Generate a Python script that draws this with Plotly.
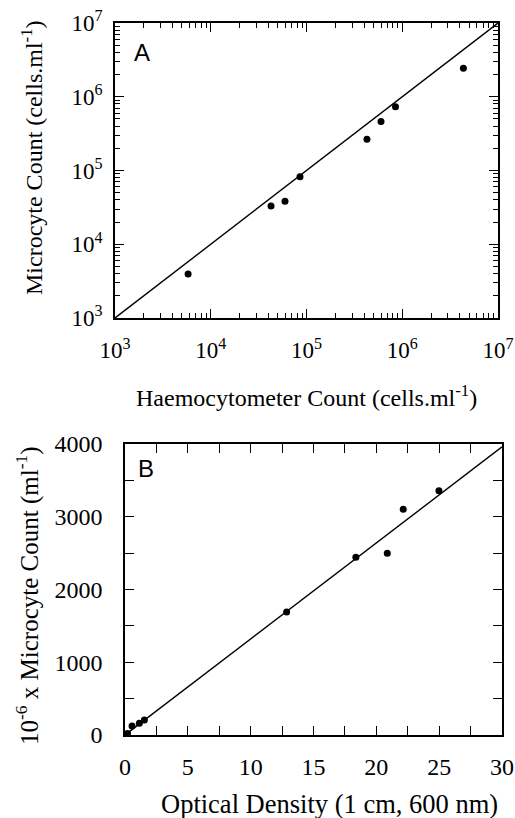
import plotly.graph_objects as go

# Panel A data (log-log)
haemo_count = [5.8e3, 4.26e4, 5.96e4, 8.55e4, 4.28e5, 6.0e5, 8.5e5, 4.35e6]
microcyte_count_a = [3.95e3, 3.3e4, 3.82e4, 8.2e4, 2.65e5, 4.6e5, 7.3e5, 2.43e6]
line_a_x = [1e3, 1e7]
line_a_y = [1e3, 1e7]
log_tickvals = [1e3, 1e4, 1e5, 1e6, 1e7]
log_ticktext = ["10<sup>3</sup>", "10<sup>4</sup>", "10<sup>5</sup>", "10<sup>6</sup>", "10<sup>7</sup>"]

# Panel B data (linear)
optical_density = [0.2, 0.56, 1.14, 1.54, 12.86, 18.37, 20.87, 22.14, 24.98]
microcyte_count_b = [20, 124, 160, 206, 1691, 2443, 2498, 3103, 3359]
line_b_x = [0, 30]
line_b_y = [0, 3960]
b_xtickvals = [0, 2.5, 5, 7.5, 10, 12.5, 15, 17.5, 20, 22.5, 25, 27.5, 30]
b_xticktext = ["0", "", "5", "", "10", "", "15", "", "20", "", "25", "", "30"]
b_ytickvals = [0, 500, 1000, 1500, 2000, 2500, 3000, 3500, 4000]
b_yticktext = ["0", "", "1000", "", "2000", "", "3000", "", "4000"]

W, H = 515, 818
serif = "Liberation Serif, Times New Roman, serif"
tickfont_a = dict(family=serif, size=23, color="black")
tickfont_b = dict(family=serif, size=24, color="black")

fig = go.Figure()
fig.add_trace(go.Scatter(x=line_a_x, y=line_a_y, mode="lines",
                         line=dict(color="black", width=1.4), xaxis="x", yaxis="y", showlegend=False))
fig.add_trace(go.Scatter(x=haemo_count, y=microcyte_count_a, mode="markers",
                         marker=dict(color="black", size=7), xaxis="x", yaxis="y", showlegend=False))
fig.add_trace(go.Scatter(x=line_b_x, y=line_b_y, mode="lines",
                         line=dict(color="black", width=1.4), xaxis="x2", yaxis="y2", showlegend=False))
fig.add_trace(go.Scatter(x=optical_density, y=microcyte_count_b, mode="markers",
                         marker=dict(color="black", size=7), xaxis="x2", yaxis="y2", showlegend=False, cliponaxis=False))

common = dict(showgrid=False, zeroline=False, showline=True, linecolor="black", linewidth=1.5,
              mirror="allticks", ticks="inside", tickcolor="black", tickwidth=1.2,
              automargin=False)
minor = dict(ticks="inside", ticklen=5, tickcolor="black", tickwidth=1.2, dtick="D1", showgrid=False)

fig.update_layout(
    width=W, height=H, margin=dict(l=0, r=0, t=0, b=0),
    paper_bgcolor="white", plot_bgcolor="white",
    xaxis=dict(type="log", range=[3, 7], domain=[115 / W, 498 / W], anchor="y",
               tickvals=log_tickvals, ticktext=log_ticktext, ticklen=9, minor=minor,
               ticklabelstandoff=11, tickfont=tickfont_a, **common),
    yaxis=dict(type="log", range=[3, 7], domain=[1 - 318 / H, 1 - 23 / H], anchor="x",
               tickvals=log_tickvals, ticktext=log_ticktext, ticklen=9, minor=minor,
               ticklabelstandoff=6, tickfont=tickfont_a, **common),
    xaxis2=dict(range=[0, 30], domain=[125 / W, 502 / W], anchor="y2",
                tickvals=b_xtickvals, ticktext=b_xticktext, ticklen=9,
                ticklabelstandoff=9, tickfont=tickfont_b, **common),
    yaxis2=dict(range=[0, 4000], domain=[1 - 735 / H, 1 - 444 / H], anchor="x2",
                tickvals=b_ytickvals, ticktext=b_yticktext, ticklen=9,
                ticklabelstandoff=16, tickfont=tickfont_b, **common),
)

annots = [
    dict(text="Haemocytometer Count (cells.ml<sup>-1</sup>)", x=306 / W, y=1 - 396 / H, textangle=0, size=24),
    dict(text="Microcyte Count (cells.ml<sup>-1</sup>)", x=32 / W, y=1 - 158 / H, textangle=-90, size=24),
    dict(text="Optical Density (1 cm, 600 nm)", x=329 / W, y=1 - 804 / H, textangle=0, size=26.5),
    dict(text="10<sup>-6</sup> x Microcyte Count (ml<sup>-1</sup>)", x=27 / W, y=1 - 596 / H, textangle=-90, size=25),
]
for a in annots:
    size = a.pop("size")
    fig.add_annotation(xref="paper", yref="paper", showarrow=False,
                       font=dict(family=serif, size=size, color="black"),
                       xanchor="center", yanchor="middle", **a)

letterfont = dict(family="Liberation Sans, Arial, sans-serif", size=24, color="black")
fig.add_annotation(xref="paper", yref="paper", x=142 / W, y=1 - 53 / H, text="A", showarrow=False,
                   font=letterfont, xanchor="center", yanchor="middle")
fig.add_annotation(xref="paper", yref="paper", x=146 / W, y=1 - 468 / H, text="B", showarrow=False,
                   font=letterfont, xanchor="center", yanchor="middle")

fig.write_html("out.html")
